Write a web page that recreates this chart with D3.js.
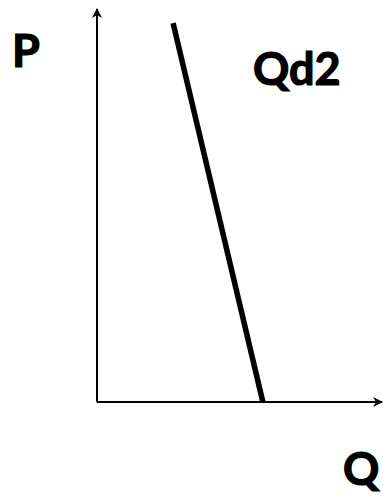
<!DOCTYPE html>
<html>
<head>
<meta charset="utf-8">
<script src="https://cdn.jsdelivr.net/npm/d3@7"></script>
<style>
  body { margin: 0; background: #fff; }
  .label { font-family: Lato, "Open Sans", sans-serif; font-weight: bold; fill: #000; stroke: #000; stroke-width: 1.2px; }
</style>
</head>
<body>
<script>
// demand curve Qd2, given as (quantity, price) points on a 0-100 scale
var demandQ = [26.7, 58.2];
var demandP = [96.4, 0];
var axisLabels = ["P", "Q"];
var curveLabel = "Qd2";

var w = 383, h = 499;
var x0 = 97, y0 = 402;

var svg = d3.select("body").append("svg")
    .attr("width", w)
    .attr("height", h);

var x = d3.scaleLinear().domain([0, 100]).range([x0, 382]);
var y = d3.scaleLinear().domain([0, 100]).range([y0, 9]);

//arrow heads for the axes
svg.append("defs").append("marker")
    .attr("id", "arrow")
    .attr("viewBox", "0 0 10 10")
    .attr("refX", 9)
    .attr("refY", 5)
    .attr("markerWidth", 5)
    .attr("markerHeight", 5)
    .attr("orient", "auto")
    .append("path")
    .attr("d", "M0,0 L10,5 L0,10 L3,5 Z")
    .style("fill", "#000");

//y axis (price)
svg.append("line")
    .attr("x1", x(0)).attr("y1", y(0))
    .attr("x2", x(0)).attr("y2", y(100))
    .style("stroke", "#000")
    .style("stroke-width", 2)
    .attr("marker-end", "url(#arrow)");

//x axis (quantity)
svg.append("line")
    .attr("x1", x(0)).attr("y1", y(0))
    .attr("x2", x(100)).attr("y2", y(0))
    .style("stroke", "#000")
    .style("stroke-width", 2)
    .attr("marker-end", "url(#arrow)");

//demand line
var pts = demandQ.map(function(q, i){ return [q, demandP[i]]; });
svg.append("path")
    .datum(pts)
    .attr("d", d3.line()
        .x(function(d){ return x(d[0]); })
        .y(function(d){ return y(d[1]); }))
    .style("fill", "none")
    .style("stroke", "#000")
    .style("stroke-width", 5.5);

//labels
svg.append("text").attr("class", "label")
    .attr("x", 12).attr("y", 67)
    .style("font-size", "45px")
    .text(axisLabels[0]);

svg.append("text").attr("class", "label")
    .attr("x", 343).attr("y", 485)
    .style("font-size", "45px")
    .text(axisLabels[1]);

svg.append("text").attr("class", "label")
    .attr("x", 253).attr("y", 85)
    .style("font-size", "45px")
    .text(curveLabel);
</script>
</body>
</html>
